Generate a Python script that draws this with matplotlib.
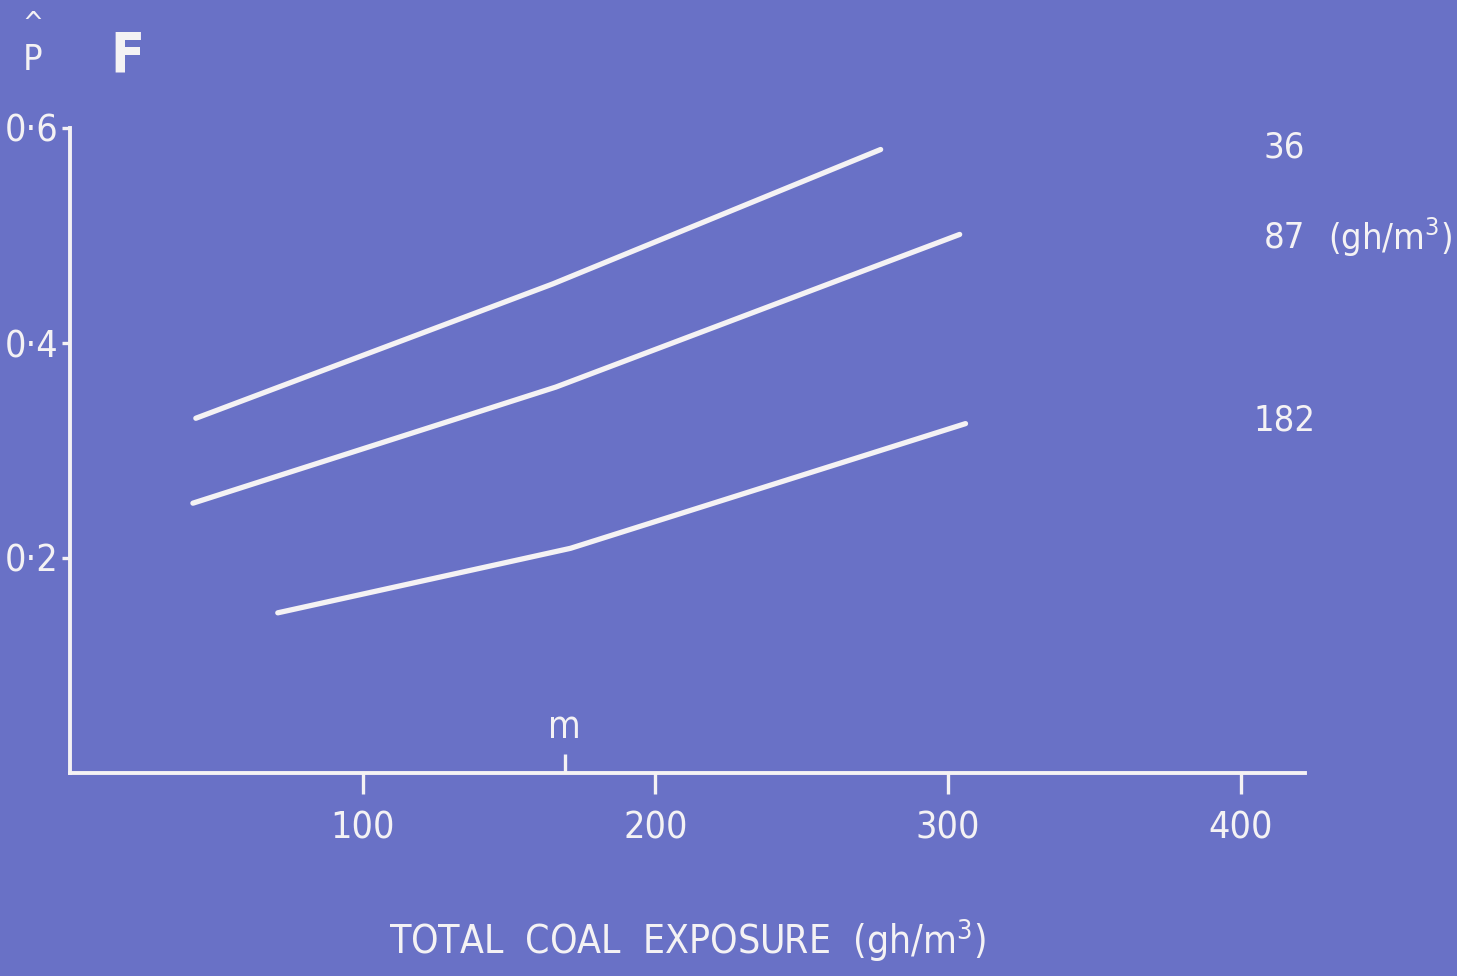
import matplotlib
matplotlib.use("Agg")
import matplotlib.pyplot as plt

# Probability of category of pneumoconiosis vs total coal exposure,
# one curve per mean dust concentration (gh/m3 labels at the right)
concentration_labels = ["36", "87", "182"]

exposure_36 = [43, 165, 277]
prob_36 = [0.330, 0.455, 0.580]

exposure_87 = [42, 166, 304]
prob_87 = [0.251, 0.359, 0.501]

exposure_182 = [71, 171, 306]
prob_182 = [0.149, 0.209, 0.325]

x_ticks = [100, 200, 300, 400]
y_ticks = [0.2, 0.4, 0.6]
y_tick_labels = ["0·2", "0·4", "0·6"]
median_exposure = 169

BG = "#6971C6"
FG = "#F4F2F4"

plt.rcParams["font.family"] = ["DejaVu Sans"]
plt.rcParams["font.stretch"] = "condensed"

W, H = 1457, 976
fig = plt.figure(figsize=(W / 100, H / 100), dpi=100, facecolor=BG)

# axes box: x 0..422 over pixels 70..1305, y 0..0.6 over pixels 773..128
left_px, right_px, bottom_px, top_px = 70, 1305, 773, 128
ax = fig.add_axes([left_px / W, 1 - bottom_px / H,
                   (right_px - left_px) / W, (bottom_px - top_px) / H])
ax.set_facecolor(BG)
ax.set_xlim(0, 422)
ax.set_ylim(0, 0.6)

for s in ("top", "right"):
    ax.spines[s].set_visible(False)
for s in ("left", "bottom"):
    ax.spines[s].set_color(FG)
    ax.spines[s].set_linewidth(2.8)

ax.set_xticks(x_ticks)
ax.set_xticklabels([str(v) for v in x_ticks])
ax.set_yticks(y_ticks)
ax.set_yticklabels(y_tick_labels)
ax.tick_params(axis="x", direction="out", length=15, width=2.4, color=FG,
               labelcolor=FG, labelsize=27, pad=12)
ax.tick_params(axis="y", direction="out", length=6, width=2.4, color=FG,
               labelcolor=FG, labelsize=27, pad=2)

# upward tick marking the median exposure
ax.plot([median_exposure, median_exposure], [0, 0.018], color=FG, lw=2.4,
        clip_on=False, solid_capstyle="butt")
ax.text(median_exposure, 0.025, "m", color=FG, fontsize=27,
        ha="center", va="bottom")

series = [(exposure_36, prob_36), (exposure_87, prob_87),
          (exposure_182, prob_182)]
for xs, ys in series:
    ax.plot(xs, ys, color=FG, lw=3.8, solid_capstyle="round",
            solid_joinstyle="round")

# concentration labels at the right
label_y = [0.582, 0.498, 0.328]
for txt, yv in zip(concentration_labels, label_y):
    ax.text(415, yv, txt, color=FG, fontsize=26, ha="center", va="center",
            clip_on=False)
ax.text(1390 / W, 1 - 237 / H, "(gh/m$^{3}$)", transform=fig.transFigure,
        color=FG, fontsize=26, ha="center", va="center")

# axis titles
ax.set_xlabel("TOTAL  COAL  EXPOSURE  (gh/m$^{3}$)", color=FG,
              fontsize=28, labelpad=50)
fig.text(33 / W, 1 - 60 / H, "P", color=FG, fontsize=26,
         ha="center", va="center")
fig.text(33 / W, 1 - 24 / H, "^", color=FG, fontsize=20,
         ha="center", va="center")
fig.text(127 / W, 1 - 56 / H, "F", color=FG, fontsize=40,
         fontweight="bold", ha="center", va="center")

fig.savefig("out.png", dpi=100, facecolor=BG)
